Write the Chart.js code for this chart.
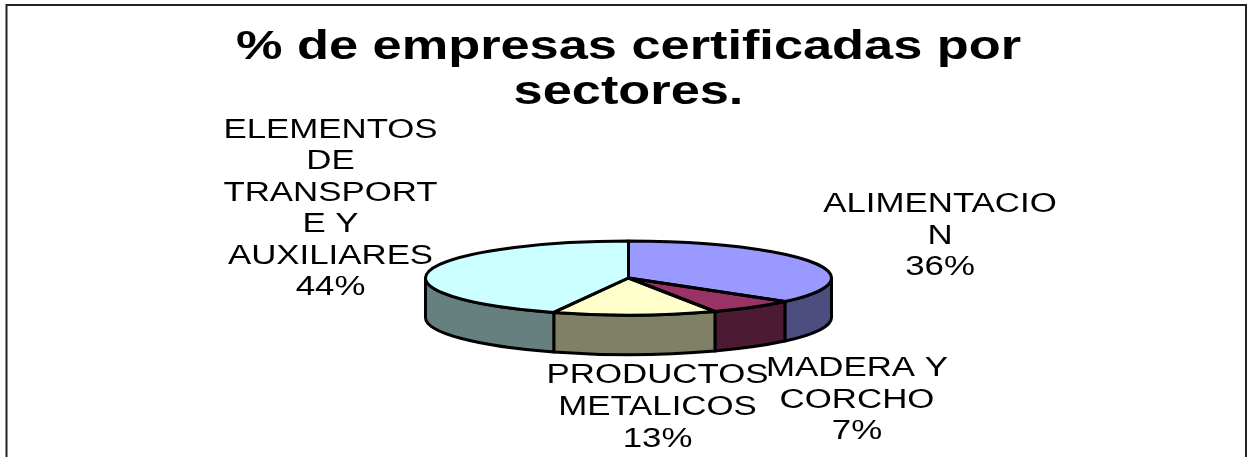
<!DOCTYPE html>
<html>
<head>
<meta charset="utf-8">
<script src="https://cdn.jsdelivr.net/npm/chart.js@4/dist/chart.umd.min.js"></script>
<style>
html,body{margin:0;padding:0;background:#fff;overflow:hidden}
#wrap{position:absolute;left:0;top:0;width:1251px;height:457px}
</style>
</head>
<body>
<div id="wrap"><canvas id="c" width="1251" height="457"></canvas></div>
<script>
const chartTitle = ["% de empresas certificadas por", "sectores."];
const categories = ["ALIMENTACION", "MADERA Y CORCHO", "PRODUCTOS METALICOS", "ELEMENTOS DE TRANSPORTE Y AUXILIARES"];
const values = [36, 7, 13, 44];
const wrappedLabels = [
  ["ALIMENTACIO", "N", "36%"],
  ["MADERA Y", "CORCHO", "7%"],
  ["PRODUCTOS", "METALICOS", "13%"],
  ["ELEMENTOS", "DE", "TRANSPORT", "E Y", "AUXILIARES", "44%"]
];
const topColors = ["#9999FF", "#993366", "#FFFFCC", "#CCFFFF"];
const wallColors = ["#4D4D80", "#4D1A33", "#808066", "#668080"];

const view = {cx: 628.5, cy: 278, rx: 203, ry: 37, depth: 39.5, line: 3};
const labelPos = [
  {x: 940, y: 212, step: 31.5},
  {x: 857, y: 376, step: 31.5},
  {x: 657.5, y: 383, step: 32},
  {x: 330.5, y: 138, step: 31.4}
];
const textStyle = {font: '27px "Liberation Sans"', sx: 1.29};
const titleStyle = {font: 'bold 41px "Liberation Sans"', sx: 1.276, x: 628.5, y: 59, step: 45};

function scaledText(ctx, str, x, y, sx) {
  ctx.save();
  ctx.translate(x, y);
  ctx.scale(sx, 1);
  ctx.fillText(str, 0, 0);
  ctx.restore();
}

const pie3d = {
  id: 'pie3d',
  beforeDatasetsDraw(chart) {
    const ctx = chart.ctx;
    ctx.save();
    ctx.strokeStyle = '#222';
    ctx.lineWidth = 2;
    ctx.beginPath();
    ctx.moveTo(6.5, 457); ctx.lineTo(6.5, 5); ctx.lineTo(1246, 5); ctx.lineTo(1246, 457);
    ctx.stroke();
    ctx.restore();
    // side walls of the visible front half
    const arcs = chart.getDatasetMeta(0).data;
    ctx.save();
    ctx.strokeStyle = '#000';
    ctx.lineWidth = view.line;
    ctx.lineJoin = 'round';
    arcs.forEach((arc, i) => {
      const p = arc.getProps(['startAngle', 'endAngle']);
      const a0 = Math.max(p.startAngle, 0), a1 = Math.min(p.endAngle, Math.PI);
      if (a1 <= a0) return;
      ctx.beginPath();
      ctx.ellipse(view.cx, view.cy, view.rx, view.ry, 0, a0, a1);
      ctx.ellipse(view.cx, view.cy + view.depth, view.rx, view.ry, 0, a1, a0, true);
      ctx.closePath();
      ctx.fillStyle = wallColors[i];
      ctx.fill();
      ctx.stroke();
    });
    ctx.restore();
  },
  beforeDatasetDraw(chart) {
    const ctx = chart.ctx;
    const arc = chart.getDatasetMeta(0).data[0];
    const p = arc.getProps(['x', 'y', 'outerRadius']);
    ctx.save();
    ctx.translate(view.cx, view.cy);
    ctx.scale(view.rx / p.outerRadius, view.ry / p.outerRadius);
    ctx.translate(-p.x, -p.y);
  },
  afterDatasetDraw(chart) {
    const ctx = chart.ctx;
    ctx.restore();
    const arcs = chart.getDatasetMeta(0).data;
    ctx.save();
    ctx.strokeStyle = '#000';
    ctx.lineWidth = view.line;
    ctx.lineJoin = 'round';
    arcs.forEach(arc => {
      const p = arc.getProps(['startAngle', 'endAngle']);
      ctx.beginPath();
      ctx.moveTo(view.cx, view.cy);
      ctx.ellipse(view.cx, view.cy, view.rx, view.ry, 0, p.startAngle, p.endAngle);
      ctx.closePath();
      ctx.stroke();
    });
    ctx.restore();
  },
  afterDraw(chart) {
    const ctx = chart.ctx;
    ctx.save();
    ctx.fillStyle = '#000';
    ctx.textAlign = 'center';
    ctx.textBaseline = 'alphabetic';
    ctx.font = titleStyle.font;
    chartTitle.forEach((t, i) => scaledText(ctx, t, titleStyle.x, titleStyle.y + i * titleStyle.step, titleStyle.sx));
    ctx.font = textStyle.font;
    wrappedLabels.forEach((lines, i) => {
      const pos = labelPos[i];
      lines.forEach((t, j) => scaledText(ctx, t, pos.x, pos.y + j * pos.step, textStyle.sx));
    });
    ctx.restore();
  }
};

new Chart(document.getElementById('c'), {
  type: 'pie',
  data: {
    labels: categories,
    datasets: [{data: values, backgroundColor: topColors, borderWidth: 0}]
  },
  options: {
    responsive: false,
    animation: false,
    plugins: {legend: {display: false}, tooltip: {enabled: false}, title: {display: false}}
  },
  plugins: [pie3d]
});
</script>
</body>
</html>
